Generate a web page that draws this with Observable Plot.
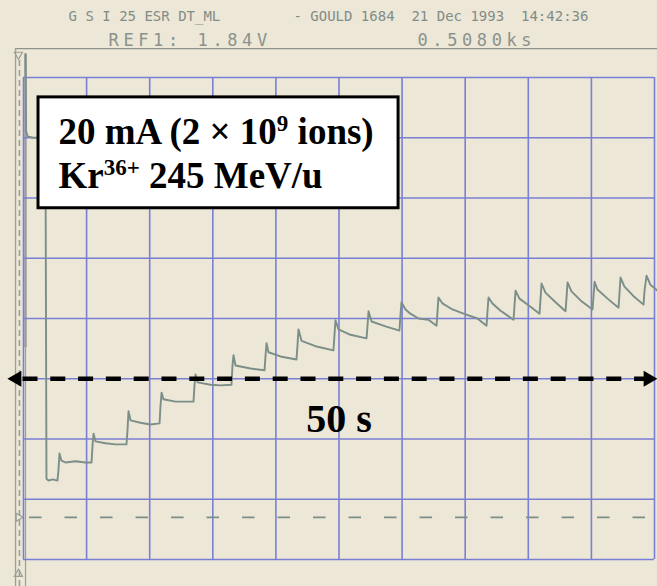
<!DOCTYPE html>
<html>
<head>
<meta charset="utf-8">
<script src="https://cdn.jsdelivr.net/npm/d3@7"></script>
<script src="https://cdn.jsdelivr.net/npm/@observablehq/plot@0.6"></script>
<style>
  html, body { margin: 0; padding: 0; background: #ece7d7; }
  #chart svg { display: block; }
</style>
</head>
<body>
<div id="chart"></div>
<script>
// Beam current transformer record: repeated injections stacked in the ring.
// Horizontal: seconds (5 s per division); vertical: screen divisions.

// Trace samples (time in s, signal in divisions), one row of pairs per injection step
const traceTime = [
  0.16, 0.20, 0.32, 0.79, 1.74,
  1.82, 1.98, 2.30, 2.69,
  2.77, 2.85, 3.01, 3.33, 4.12, 4.91, 5.39,
  5.47, 5.55, 5.71, 6.50, 7.29, 8.16,
  8.24, 8.32, 8.48, 9.27, 10.06, 10.78,
  10.86, 10.94, 11.09, 12.04, 12.84, 13.47,
  13.55, 13.63, 13.79, 14.82, 15.61, 16.48,
  16.56, 16.64, 16.80, 17.99, 19.10,
  19.18, 19.26, 19.41, 20.36, 21.63,
  21.71, 21.79, 22.03, 23.14, 24.56,
  24.64, 24.72, 24.96, 25.91, 27.18,
  27.26, 27.34, 27.58, 28.69, 29.79,
  29.87, 29.95, 30.27, 30.66, 31.30, 32.09, 32.73,
  32.81, 32.88, 33.20, 33.99, 34.87, 35.97, 36.69,
  36.77, 36.85, 37.16, 37.80, 38.83,
  38.91, 38.99, 39.30, 40.02, 40.89,
  40.97, 41.05, 41.36, 42.16, 42.95,
  43.03, 43.11, 43.42, 44.14, 45.09,
  45.17, 45.25, 45.48, 46.28, 47.15,
  47.23, 47.31, 47.62, 48.34, 49.13,
  49.21, 49.37, 49.68, 50.24
];
const traceSignal = [
  8.37, 7.12, 7.02, 7.00, 7.00,
  1.34, 1.31, 1.33, 1.31,
  1.48, 1.76, 1.64, 1.61, 1.63, 1.61, 1.61,
  1.89, 2.09, 1.96, 1.93, 1.91, 1.91,
  2.14, 2.46, 2.31, 2.27, 2.24, 2.26,
  2.56, 2.77, 2.66, 2.62, 2.62, 2.62,
  2.89, 3.07, 2.94, 2.90, 2.89, 2.90,
  3.22, 3.39, 3.22, 3.17, 3.14,
  3.39, 3.59, 3.44, 3.37, 3.32,
  3.55, 3.82, 3.63, 3.54, 3.47,
  3.72, 3.97, 3.82, 3.73, 3.67,
  3.88, 4.12, 3.95, 3.87, 3.80,
  4.05, 4.27, 4.15, 4.08, 4.00, 3.98, 3.88,
  4.13, 4.35, 4.25, 4.15, 4.08, 4.00, 3.88,
  4.13, 4.35, 4.25, 4.13, 3.98,
  4.22, 4.46, 4.33, 4.22, 4.08,
  4.33, 4.58, 4.43, 4.27, 4.12,
  4.35, 4.60, 4.45, 4.30, 4.15,
  4.38, 4.61, 4.48, 4.33, 4.18,
  4.43, 4.68, 4.53, 4.37, 4.23,
  4.46, 4.71, 4.56, 4.46
];

// Graticule: 10 horizontal and 8 vertical divisions
const timeTicks = [0, 5, 10, 15, 20, 25, 30, 35, 40, 45, 50];
const divTicks = [0, 1, 2, 3, 4, 5, 6, 7, 8];

// Ground reference level of the channel (divisions)
const groundLevel = [0.70];

// Plotter header lines
const headerIds = ["G S I 25 ESR DT_ML", "- GOULD 1684  21 Dec 1993  14:42:36"];
const headerSettings = ["REF1: 1.84V", "0.5080ks"];

// Annotation box text, as [text, superscript?] runs
const beamLine1 = [["20 mA (2 × 10", false], ["9", true], [" ions)", false]];
const beamLine2 = [["Kr", false], ["36+", true], [" 245 MeV/u", false]];
const spanLabel = ["50 s"];

const trace = traceTime.map((t, i) => ({t, v: traceSignal[i]}));
const joinRuns = runs => runs.map(r => r[0]).join("");

const paper = "#ece7d7";
const gridBlue = "#7a7fd6";
const frameGray = "#9a9f98";
const traceGray = "#7b8e87";
const inkGray = "#838c86";

const chart = Plot.plot({
  width: 657,
  height: 586,
  marginLeft: 23,
  marginRight: 3,
  marginTop: 77,
  marginBottom: 27,
  x: {domain: [0, 50], axis: null},
  y: {domain: [0, 8], axis: null},
  style: {background: paper, overflow: "visible"},
  marks: [
    // plotter frame to the left and above the graticule
    Plot.ruleY([8.48], {x1: -0.63, x2: 50.24, stroke: "#8e938c", strokeWidth: 1.4}),
    Plot.ruleX([-0.63], {y1: -0.45, y2: 8.48, stroke: frameGray, strokeWidth: 1.3}),
    Plot.ruleX([-0.32], {y1: -0.45, y2: 8.30, stroke: frameGray, strokeWidth: 1.6, strokeDasharray: "6,4"}),
    Plot.ruleX([0.16], {y1: -0.45, y2: 8.40, stroke: frameGray, strokeWidth: 1.2}),
    Plot.ruleX([0.16], {y1: 3.52, y2: 8.40, stroke: frameGray, strokeWidth: 2.4}),
    Plot.dot([8.38], {x: -0.40, y: d => d, symbol: "triangle", r: 3, rotate: 180, stroke: frameGray, fill: "none", strokeWidth: 1.2}),
    Plot.dot(groundLevel, {x: -0.40, y: d => d, symbol: "triangle", r: 3, rotate: 90, stroke: frameGray, fill: "none", strokeWidth: 1.2}),
    Plot.dot([-0.24], {x: -0.40, y: d => d, symbol: "triangle", r: 3, stroke: frameGray, fill: "none", strokeWidth: 1.2}),

    // graticule
    Plot.ruleX(timeTicks, {stroke: gridBlue, strokeWidth: 1.6}),
    Plot.ruleY(divTicks, {stroke: gridBlue, strokeWidth: 1.6}),

    // ground reference
    Plot.ruleY(groundLevel, {x1: 0.48, x2: 50.24, stroke: traceGray, strokeWidth: 1.8, strokeDasharray: "12.5,23"}),

    // beam current trace
    Plot.line(trace, {x: "t", y: "v", stroke: traceGray, strokeWidth: 1.9, strokeLinejoin: "round"}),

    // 50 s span arrow
    Plot.link([0], {x1: -0.08, x2: 49.53, y1: 3, y2: 3, stroke: "black", strokeWidth: 4.5, strokeDasharray: "15,12.8"}),
    Plot.dot([{t: -0.54, a: -90}, {t: 49.51, a: 90}], {x: "t", y: 3, symbol: "triangle", r: 6, rotate: "a", fill: "black", stroke: "none"}),
    Plot.text(spanLabel, {x: 25, y: 2.11, text: d => d, fontFamily: "Liberation Serif", fontWeight: "bold", fontSize: 40, fill: "black", lineAnchor: "bottom"}),

    // beam annotation box
    Plot.rect([0], {x1: 1.19, x2: 29.72, y1: 5.83, y2: 7.67, fill: "white", stroke: "black", strokeWidth: 3}),
    Plot.text([joinRuns(beamLine1)], {x: 2.77, y: 6.90, text: d => d, fontFamily: "Liberation Serif", fontWeight: "bold", fontSize: 37, fill: "black", textAnchor: "start", lineAnchor: "bottom"}),
    Plot.text([joinRuns(beamLine2)], {x: 2.77, y: 6.16, text: d => d, fontFamily: "Liberation Serif", fontWeight: "bold", fontSize: 37, fill: "black", textAnchor: "start", lineAnchor: "bottom"}),

    // plotter header
    Plot.text([headerIds[0]], {x: 3.57, y: 8.93, text: d => d, fontFamily: "DejaVu Sans Mono", fontSize: 14, fill: inkGray, textAnchor: "start", lineAnchor: "bottom"}),
    Plot.text([headerIds[1]], {x: 21.39, y: 8.93, text: d => d, fontFamily: "DejaVu Sans Mono", fontSize: 14, fill: inkGray, textAnchor: "start", lineAnchor: "bottom"}),
    Plot.text([headerSettings[0]], {x: 6.74, y: 8.53, text: d => d, fontFamily: "DejaVu Sans Mono", fontSize: 17, fill: "#8b928c", textAnchor: "start", lineAnchor: "bottom"}),
    Plot.text([headerSettings[1]], {x: 31.22, y: 8.53, text: d => d, fontFamily: "DejaVu Sans Mono", fontSize: 17, fill: "#8b928c", textAnchor: "start", lineAnchor: "bottom"})
  ]
});

const svg = d3.select(chart);
const textsReading = str => svg.selectAll("text").filter(function () { return this.textContent === str; });

// widely spaced plotter lettering for the settings line
for (const s of headerSettings) textsReading(s).style("letter-spacing", "4.6px");

// superscripts in the annotation box
function setRuns(runs, fontSize) {
  const rise = Math.round(fontSize * 0.34);
  textsReading(joinRuns(runs)).each(function () {
    const node = d3.select(this);
    node.text(null);
    let raised = false;
    for (const [str, sup] of runs) {
      const span = node.append("tspan").text(str);
      if (sup && !raised) { span.attr("dy", -rise).attr("font-size", Math.round(fontSize * 0.62)); raised = true; }
      else if (!sup && raised) { span.attr("dy", rise); raised = false; }
    }
  });
}
setRuns(beamLine1, 37);
setRuns(beamLine2, 37);

document.getElementById("chart").appendChild(chart);
</script>
</body>
</html>
